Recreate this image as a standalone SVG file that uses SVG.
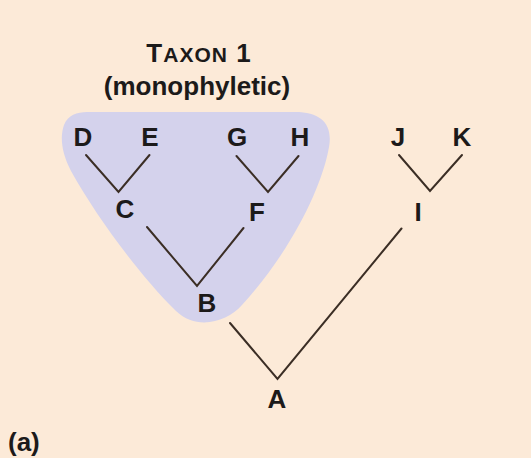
<svg xmlns="http://www.w3.org/2000/svg" width="531" height="458" viewBox="0 0 531 458">
<style>
.lbl{font-family:"Liberation Sans",Arial,sans-serif;font-weight:bold;font-size:26px;fill:#1c1a1a;text-anchor:middle}
.edge{stroke:#3b2e25;stroke-width:2;fill:none;stroke-linecap:round;stroke-linejoin:miter}
</style>
<rect x="0" y="0" width="531" height="458" fill="#fcead8"/>
<g id="taxon1">
<path d="M 87,112 L 295,112 C 322,112 333,125 329,147 C 322,187 292,250 242,305 C 227,322 197,331 176,311 C 140,276 96,216 71,171 C 61,152 60,136 64,125 C 68,115 77,112 87,112 Z" fill="#d4d2ec"/>
<text class="lbl" x="199" y="62" font-size="27" letter-spacing="1"><tspan>T</tspan><tspan font-size="21">AXON</tspan><tspan> 1</tspan></text>
<text class="lbl" x="197" y="95" font-size="35">(monophyletic)</text>
</g>
<g id="connectors">
<path class="edge" d="M86,155 L118.5,192 L149.5,155"/>
<path class="edge" d="M236.5,156 L268,192 L298.5,156"/>
<path class="edge" d="M399,155 L430,191 L462,155"/>
<path class="edge" d="M147,227 L197,286 L243.5,228"/>
<path class="edge" d="M230,323 L277.5,379 L401.5,228.5"/>
</g>
<g id="node-D"><text class="lbl" x="83" y="146">D</text></g>
<g id="node-E"><text class="lbl" x="150" y="146">E</text></g>
<g id="node-G"><text class="lbl" x="237" y="146">G</text></g>
<g id="node-H"><text class="lbl" x="300" y="146">H</text></g>
<g id="node-J"><text class="lbl" x="398" y="146">J</text></g>
<g id="node-K"><text class="lbl" x="462" y="146">K</text></g>
<g id="node-C"><text class="lbl" x="125" y="218">C</text></g>
<g id="node-F"><text class="lbl" x="257" y="221">F</text></g>
<g id="node-I"><text class="lbl" x="418" y="221">I</text></g>
<g id="node-B"><text class="lbl" x="207" y="312">B</text></g>
<g id="node-A"><text class="lbl" x="277" y="408">A</text></g>
<g id="panel-label"><text class="lbl" x="8" y="451" font-size="36" style="text-anchor:start">(a)</text></g>
</svg>
